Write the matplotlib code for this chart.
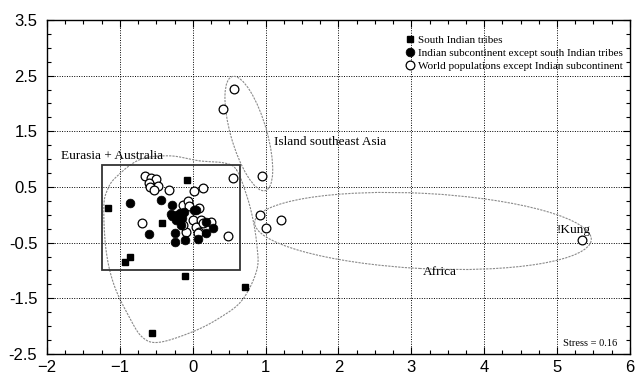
import numpy as np
import matplotlib.pyplot as plt
from matplotlib.patches import Ellipse, Rectangle
from matplotlib.ticker import MultipleLocator

# South Indian tribes (filled squares)
south_x = [-0.08, -1.16, -0.42, -0.86, -0.93, -0.11, 0.72, -0.56]
south_y = [0.63, 0.12, -0.14, -0.75, -0.85, -1.09, -1.29, -2.13]

# Indian subcontinent except south Indian tribes (filled circles)
india_x = [-0.86, -0.43, -0.28, -0.28, -0.23, -0.18, -0.16, -0.60, -0.25, -0.25,
           -0.11, 0.07, 0.18, 0.28, 0.18, 0.02, -0.22, -0.20, -0.25, -0.15,
           -0.12, 0.05, -0.30]
india_y = [0.21, 0.26, 0.18, -0.03, -0.09, 0.03, -0.18, -0.35, -0.33, -0.48,
           -0.45, -0.44, -0.33, -0.24, -0.12, 0.09, 0.00, -0.05, -0.02, -0.05,
           0.05, 0.09, 0.02]

# World populations except Indian subcontinent (open circles)
world_x = [-0.65, -0.57, -0.50, -0.60, -0.48, -0.58, -0.53, -0.32, 0.02, 0.14,
           0.55, -0.70, 0.48, -0.14, -0.06, -0.05, 0.08, 0.00, 0.12, 0.25,
           0.05, 0.09, -0.09, 0.14, -0.14, 0.07,
           0.41, 0.57, 0.95, 0.93, 1.00, 1.21, 5.34]
world_y = [0.70, 0.66, 0.64, 0.57, 0.52, 0.50, 0.45, 0.44, 0.42, 0.48,
           0.67, -0.14, -0.38, 0.18, 0.24, 0.15, 0.12, -0.09, -0.09, -0.12,
           -0.21, -0.30, -0.30, -0.15, -0.18, -0.33,
           1.90, 2.26, 0.70, -0.01, -0.23, -0.09, -0.45]

# outline around the Indian samples
blob_x = [-0.73, -0.32, 0.09, 0.44, 0.60, 0.73, 0.82, 0.88, 0.88, 0.68,
          0.37, 0.00, -0.46, -0.69, -0.87, -1.08, -1.19, -1.22, -1.17, -1.05]
blob_y = [0.99, 1.06, 0.97, 0.93, 0.81, 0.39, -0.04, -0.54, -0.99, -1.53,
          -1.85, -2.10, -2.29, -2.20, -1.84, -1.26, -0.63, 0.14, 0.45, 0.68]

fig = plt.figure(figsize=(6.35, 3.77), dpi=100)
ax = fig.add_axes([0.074, 0.061, 0.918, 0.886])

ax.set_xlim(-2, 6)
ax.set_ylim(-2.5, 3.5)
ax.xaxis.set_major_locator(MultipleLocator(1))
ax.yaxis.set_major_locator(plt.FixedLocator([-2.5, -1.5, -0.5, 0.5, 1.5, 2.5, 3.5]))
ax.xaxis.set_minor_locator(MultipleLocator(0.25))
ax.yaxis.set_minor_locator(MultipleLocator(0.25))
ax.set_yticklabels(['-2.5', '-1.5', '-0.5', '0.5', '1.5', '2.5', '3.5'])
ax.tick_params(which='both', direction='in', top=True, right=True, width=0.8)
ax.tick_params(which='major', length=5, labelsize=12)
ax.tick_params(which='minor', length=3)
ax.tick_params(axis='x', pad=4)
ax.tick_params(axis='y', pad=7)
for lab in ax.get_xticklabels() + ax.get_yticklabels():
    lab.set_family('Liberation Sans')
for s in ax.spines.values():
    s.set_linewidth(1.0)
ax.grid(True, color='black', linestyle=(0, (1, 1.5)), linewidth=0.7)
ax.set_axisbelow(True)

# smooth closed outline (Catmull-Rom)
P = np.column_stack([blob_x, blob_y])
n = len(P)
t = np.linspace(0, 1, 15)[:, None]
segs = []
for i in range(n):
    p0, p1, p2, p3 = P[i - 1], P[i], P[(i + 1) % n], P[(i + 2) % n]
    seg = 0.5 * ((2 * p1) + (-p0 + p2) * t + (2 * p0 - 5 * p1 + 4 * p2 - p3) * t**2
                 + (-p0 + 3 * p1 - 3 * p2 + p3) * t**3)
    segs.append(seg)
curve = np.vstack(segs + [segs[0][:1]])
gray = dict(color='#8a8a8a', linestyle=(0, (2, 1)), linewidth=0.8)
ax.plot(curve[:, 0], curve[:, 1], zorder=2, **gray)

ax.add_patch(Ellipse((0.77, 1.46), width=2.1, height=0.5, angle=102, fill=False,
                     edgecolor='#8a8a8a', linestyle=(0, (2, 1)), linewidth=0.8, zorder=2))
ax.add_patch(Ellipse((3.16, -0.29), width=4.63, height=1.35, angle=-4, fill=False,
                     edgecolor='#8a8a8a', linestyle=(0, (2, 1)), linewidth=0.8, zorder=2))
ax.add_patch(Rectangle((-1.25, -1.0), 1.9, 1.9, fill=False, edgecolor='#333333',
                       linewidth=1.3, zorder=3))

ax.plot(world_x, world_y, 'o', ms=6.3, mfc='white', mec='black', mew=0.9,
        zorder=4, label='World populations except Indian subcontinent')
ax.plot(india_x, india_y, 'o', ms=6.3, mfc='black', mec='black', mew=0.5,
        zorder=5, label='Indian subcontinent except south Indian tribes')
ax.plot(south_x, south_y, 's', ms=5, mfc='black', mec='black',
        zorder=6, label='South Indian tribes')

serif = 'Liberation Serif'
ax.text(-1.81, 1.06, 'Eurasia + Australia', fontsize=9.5, family=serif, va='center')
ax.text(1.11, 1.31, 'Island southeast Asia', fontsize=9.5, family=serif, va='center')
ax.text(3.16, -1.03, 'Africa', fontsize=9.5, family=serif, va='center')
ax.text(5.0, -0.27, '!Kung', fontsize=9.5, family=serif, va='center')
ax.text(5.08, -2.32, 'Stress = 0.16', fontsize=7.5, family=serif, va='center')

h, l = ax.get_legend_handles_labels()
leg = ax.legend(h[::-1], l[::-1], loc='upper right', bbox_to_anchor=(1.014, 1.0),
                frameon=False, prop={'family': serif, 'size': 8},
                handlelength=0.8, handletextpad=0.3, labelspacing=0.3,
                borderaxespad=0.95, markerscale=1.0)

fig.savefig('out.png', dpi=100)
